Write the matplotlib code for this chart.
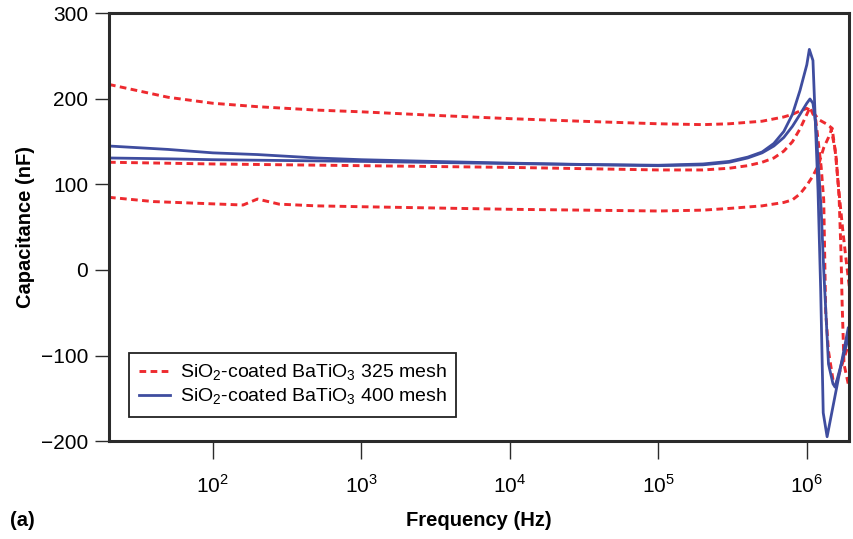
import matplotlib
matplotlib.use("Agg")
import matplotlib.pyplot as plt

plt.rcParams['font.family'] = ['Liberation Sans', 'DejaVu Sans']
plt.rcParams['mathtext.fontset'] = 'custom'
plt.rcParams['mathtext.rm'] = 'Liberation Sans'

# 325 mesh (red dashed), three samples
f_red_upper = [20, 50, 100, 200, 500, 1e3, 3e3, 1e4, 3e4, 1e5, 2e5, 3e5, 5e5, 7e5, 8e5, 9e5,
               1.0e6, 1.1e6, 1.2e6, 1.35e6, 1.45e6, 1.55e6, 1.65e6, 1.75e6, 1.85e6, 1.95e6]
c_red_upper = [217, 202, 195, 191, 187, 185, 181, 177, 174, 171, 170, 171, 174, 179, 182, 186,
               189, 185, 176, 171, 167, 141, 90, 45, 8, -25]

f_red_mid = [20, 100, 1e3, 1e4, 1e5, 2e5, 3e5, 4e5, 5e5, 6e5, 7e5, 8e5, 9e5,
             1.0e6, 1.05e6, 1.15e6, 1.25e6, 1.3e6, 1.34e6, 1.4e6, 1.5e6, 1.56e6, 1.9e6]
c_red_mid = [126, 124, 122, 120, 117, 117, 119, 122, 126, 131, 139, 150, 165,
             182, 190, 175, 120, 82, -49, -95, -128, -135, -88]

f_red_low = [20, 40, 80, 160, 200, 280, 500, 1e3, 1e4, 1e5, 2e5, 3e5, 5e5, 7e5, 8e5, 9e5,
             1.0e6, 1.1e6, 1.2e6, 1.3e6, 1.4e6, 1.48e6, 1.58e6, 1.65e6, 1.7e6, 1.73e6, 1.78e6, 1.9e6]
c_red_low = [85, 80, 78, 76, 83, 77, 75, 74, 71, 69, 70, 72, 75, 79, 82, 89,
             99, 110, 123, 143, 155, 166, 130, 85, 20, -40, -110, -133]

# 400 mesh (blue solid), two samples
f_blue_a = [20, 50, 100, 200, 500, 1e3, 3e3, 1e4, 3e4, 1e5, 2e5, 3e5, 4e5, 5e5, 6e5, 7e5, 8e5, 9e5,
            1.0e6, 1.04e6, 1.1e6, 1.19e6, 1.24e6, 1.29e6, 1.37e6, 1.9e6]
c_blue_a = [145, 141, 137, 135, 131, 129, 127, 125, 123.5, 122.5, 124, 127, 132, 138, 148, 162, 182, 210,
            240, 258, 245, 93, -23, -167, -195, -68]

f_blue_b = [20, 50, 100, 1e3, 1e4, 1e5, 2e5, 3e5, 4e5, 5e5, 6e5, 7e5, 8e5, 9e5,
            1.0e6, 1.05e6, 1.1e6, 1.15e6, 1.25e6, 1.3e6, 1.4e6, 1.5e6, 1.55e6, 1.9e6]
c_blue_b = [131, 130, 129, 127, 124.5, 122, 123, 126, 131, 137, 145, 155, 168, 182,
            195, 200, 195, 170, 70, 0, -110, -133, -137, -80]

red = '#ee2a2f'
blue = '#3f4d9f'
dark = '#2b2b2b'
dash = (2.3, 1.5)

fig = plt.figure(figsize=(8.54, 5.39), dpi=100)
ax = fig.add_axes([0.1276, 0.1818, 0.8664, 0.7932])

ax.plot(f_red_upper, c_red_upper, color=red, lw=2.1, dashes=dash,
        label='SiO$_2$-coated BaTiO$_3$ 325 mesh')
ax.plot(f_red_mid, c_red_mid, color=red, lw=2.1, dashes=dash)
ax.plot(f_red_low, c_red_low, color=red, lw=2.1, dashes=dash)
ax.plot(f_blue_a, c_blue_a, color=blue, lw=2.0, label='SiO$_2$-coated BaTiO$_3$ 400 mesh')
ax.plot(f_blue_b, c_blue_b, color=blue, lw=2.0)

ax.set_xscale('log')
ax.set_xlim(20, 1.92e6)
ax.set_ylim(-200, 300)
ax.set_xticks([1e2, 1e3, 1e4, 1e5, 1e6])
ax.set_xticklabels(['$10^{%d}$' % k for k in range(2, 7)])
ax.set_yticks([-200, -100, 0, 100, 200, 300])
ax.set_yticklabels(['\u2212200', '\u2212100', '0', '100', '200', '300'])
ax.minorticks_off()

for s in ax.spines.values():
    s.set_linewidth(2.2)
    s.set_color(dark)
ax.tick_params(axis='both', direction='out', color=dark, width=1.0, labelsize=15)
ax.tick_params(axis='y', length=10, pad=5)
ax.tick_params(axis='x', length=13, pad=11)

ax.set_xlabel('Frequency (Hz)', fontsize=14.5, fontweight='bold', labelpad=10)
ax.set_ylabel('Capacitance (nF)', fontsize=14.5, fontweight='bold', labelpad=4)
fig.text(0.012, 0.025, '(a)', fontsize=14.5, fontweight='bold')

leg = ax.legend(loc='upper left', bbox_to_anchor=(0.027, 0.206), borderaxespad=0,
                fontsize=14, fancybox=False, edgecolor='#222222', handlelength=1.6,
                handletextpad=0.5, borderpad=0.5, labelspacing=0.2, framealpha=1)
leg.get_frame().set_linewidth(1.3)

fig.savefig('out.png', dpi=100)
